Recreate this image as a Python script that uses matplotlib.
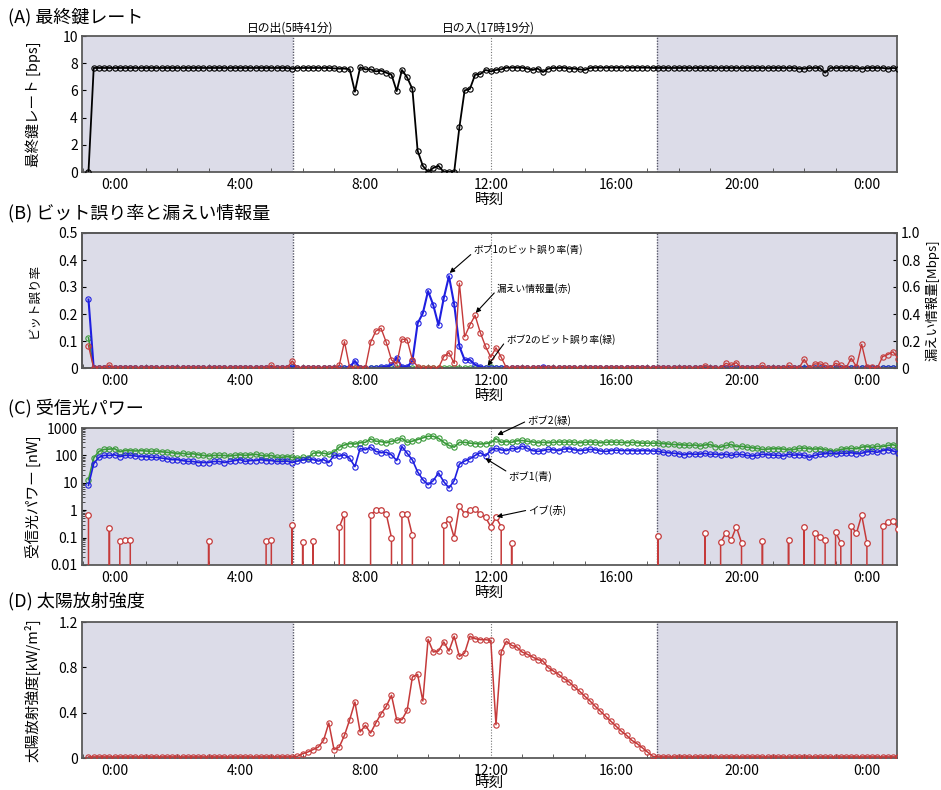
import numpy as np
import matplotlib
matplotlib.use('Agg')
import matplotlib.pyplot as plt
from matplotlib.ticker import FixedLocator, LogLocator, NullFormatter

plt.rcParams['font.family'] = ['Noto Sans CJK JP', 'DejaVu Sans']
plt.rcParams['axes.unicode_minus'] = False

# ---------------- data (10-minute samples from 23:10 of the previous day) ----------------
start_min = -50          # minutes relative to 0:00
step_min = 10
n_samples = 156
hours = (start_min + step_min * np.arange(n_samples)) / 60.0

sunrise = 5 + 41 / 60
sunset = 17 + 19 / 60

tick_hours = [0, 4, 8, 12, 16, 20, 24]
tick_labels = ['0:00', '4:00', '8:00', '12:00', '16:00', '20:00', '0:00']

# (A) final key rate [bps]
key_rate = [
    0.0, 7.65, 7.65, 7.65, 7.65, 7.65, 7.65, 7.65, 7.65, 7.65, 7.65, 7.65,
    7.65, 7.65, 7.65, 7.65, 7.65, 7.65, 7.65, 7.65, 7.65, 7.65, 7.65, 7.65,
    7.65, 7.65, 7.65, 7.65, 7.65, 7.65, 7.65, 7.65, 7.65, 7.65, 7.65, 7.65,
    7.65, 7.65, 7.65, 7.6, 7.65, 7.65, 7.65, 7.65, 7.65, 7.65, 7.65, 7.62,
    7.6, 7.6, 7.55, 5.9, 7.7, 7.55, 7.55, 7.4, 7.45, 7.3, 7.15, 5.95,
    7.5, 6.95, 6.1, 1.57, 0.45, 0.0, 0.3, 0.45, 0.0, 0.0, 0.0, 3.3,
    6.0, 6.1, 7.15, 7.2, 7.5, 7.4, 7.5, 7.55, 7.67, 7.67, 7.67, 7.67,
    7.6, 7.5, 7.6, 7.35, 7.6, 7.65, 7.65, 7.67, 7.6, 7.6, 7.55, 7.5,
    7.65, 7.67, 7.67, 7.67, 7.67, 7.67, 7.67, 7.67, 7.67, 7.67, 7.67, 7.67,
    7.65, 7.65, 7.65, 7.65, 7.65, 7.65, 7.65, 7.65, 7.65, 7.65, 7.65, 7.65,
    7.65, 7.65, 7.65, 7.65, 7.65, 7.65, 7.65, 7.65, 7.65, 7.65, 7.65, 7.65,
    7.65, 7.65, 7.65, 7.65, 7.6, 7.6, 7.65, 7.65, 7.65, 7.3, 7.65, 7.65,
    7.65, 7.65, 7.65, 7.65, 7.6, 7.65, 7.65, 7.65, 7.65, 7.6, 7.65, 7.6,
]

# (B) bit error rates and leaked information
ber_bob1 = [
    0.254, 0, 0, 0, 0, 0, 0, 0, 0, 0, 0, 0,
    0, 0, 0, 0, 0, 0, 0, 0, 0, 0, 0, 0,
    0, 0, 0, 0, 0, 0, 0, 0, 0, 0, 0, 0,
    0, 0, 0, 0.004, 0, 0, 0, 0, 0, 0, 0, 0,
    0, 0, 0.004, 0.026, 0, 0, 0, 0, 0.003, 0.004, 0.012, 0.038,
    0.004, 0.004, 0.026, 0.165, 0.203, 0.285, 0.233, 0.158, 0.258, 0.34, 0.236, 0.08,
    0.03, 0.03, 0.012, 0.004, 0, 0, 0, 0, 0, 0, 0, 0,
    0, 0, 0, 0.004, 0, 0, 0, 0, 0, 0, 0, 0,
    0, 0, 0, 0, 0, 0, 0, 0, 0, 0, 0, 0,
    0, 0, 0, 0, 0, 0, 0, 0, 0, 0, 0, 0,
    0, 0, 0, 0, 0, 0, 0, 0, 0, 0, 0, 0,
    0, 0, 0, 0, 0, 0, 0, 0, 0, 0, 0, 0,
    0, 0, 0, 0, 0, 0, 0, 0, 0, 0, 0, 0,
]
ber_bob2 = [
    0.112, 0, 0, 0, 0, 0, 0, 0, 0, 0, 0, 0,
    0, 0, 0, 0, 0, 0, 0, 0, 0, 0, 0, 0,
    0, 0, 0, 0, 0, 0, 0, 0, 0, 0, 0, 0,
    0, 0, 0, 0.004, 0, 0, 0, 0, 0, 0, 0, 0,
    0, 0, 0, 0, 0, 0, 0, 0, 0, 0, 0, 0,
    0, 0, 0, 0, 0, 0, 0, 0, 0, 0, 0, 0,
    0, 0, 0, 0, 0, 0.003, 0, 0, 0, 0, 0, 0,
    0, 0, 0, 0, 0, 0, 0, 0, 0, 0, 0, 0,
    0, 0, 0, 0, 0, 0, 0, 0, 0, 0, 0, 0,
    0, 0, 0, 0, 0, 0, 0, 0, 0, 0, 0, 0,
    0, 0, 0, 0, 0, 0, 0, 0, 0, 0, 0, 0,
    0, 0, 0, 0, 0, 0, 0, 0, 0, 0, 0, 0,
    0, 0, 0, 0, 0, 0, 0, 0, 0, 0, 0, 0,
]
leak_mbps = [
    0.165, 0, 0, 0, 0.022, 0, 0, 0, 0, 0, 0, 0,
    0, 0, 0, 0, 0, 0, 0, 0, 0, 0, 0, 0,
    0, 0, 0, 0, 0, 0, 0, 0, 0, 0, 0, 0.02,
    0, 0, 0, 0.052, 0, 0, 0, 0, 0, 0, 0, 0,
    0.02, 0.195, 0, 0, 0, 0, 0.19, 0.274, 0.294, 0.19, 0.06, 0.03,
    0.215, 0.208, 0.06, 0.01, 0, 0, 0, 0, 0.084, 0.114, 0.034, 0.628,
    0.232, 0.318, 0.39, 0.262, 0.16, 0.08, 0.15, 0.08, 0, 0, 0, 0,
    0, 0, 0, 0, 0, 0, 0, 0, 0, 0, 0, 0,
    0, 0, 0, 0, 0, 0, 0, 0, 0, 0, 0, 0,
    0, 0, 0, 0, 0, 0, 0, 0, 0, 0, 0.017, 0,
    0, 0, 0.035, 0.02, 0.04, 0, 0, 0, 0, 0.02, 0, 0,
    0, 0, 0.02, 0, 0, 0.064, 0, 0.03, 0.03, 0.02, 0, 0.035,
    0.02, 0, 0.072, 0.01, 0.175, 0.01, 0.005, 0, 0.084, 0.1, 0.12, 0.07,
]

# (C) received optical power [nW]
power_bob2 = [
    13, 80, 140, 165, 170, 175, 136, 150, 150, 145, 150, 145,
    140, 145, 135, 130, 125, 115, 120, 110, 115, 105, 100, 95,
    100, 100, 100, 95, 100, 105, 100, 105, 110, 100, 95, 100,
    85, 85, 90, 85, 80, 85, 80, 120, 125, 120, 110, 135,
    200, 240, 270, 260, 290, 300, 400, 330, 320, 290, 330, 350,
    420, 300, 330, 380, 440, 500, 500, 420, 300, 230, 200, 300,
    300, 280, 270, 260, 270, 290, 410, 300, 320, 300, 340, 350,
    330, 310, 290, 300, 290, 300, 310, 300, 310, 300, 290, 300,
    310, 300, 290, 300, 310, 300, 300, 290, 300, 290, 280, 280,
    280, 275, 270, 260, 250, 245, 240, 230, 240, 220, 240, 250,
    210, 200, 230, 250, 210, 215, 200, 190, 180, 165, 170, 175,
    175, 170, 160, 165, 180, 185, 175, 170, 175, 160, 150, 145,
    165, 175, 180, 175, 200, 210, 195, 215, 210, 230, 245, 210,
]
power_bob1 = [
    8, 50, 85, 100, 100, 105, 90, 100, 100, 95, 90, 90,
    85, 85, 80, 75, 70, 70, 65, 60, 60, 55, 55, 55,
    60, 60, 55, 60, 65, 70, 60, 65, 65, 70, 65, 65,
    60, 60, 62, 55, 62, 68, 72, 70, 62, 70, 55, 100,
    95, 105, 78, 39, 180, 160, 200, 140, 125, 130, 105, 65,
    210, 120, 68, 25, 13, 8.5, 12, 23, 11, 6.5, 12, 48,
    62, 75, 100, 125, 95, 155, 180, 160, 150, 180, 170, 220,
    180, 150, 140, 150, 165, 160, 150, 170, 175, 160, 150, 155,
    165, 160, 145, 140, 150, 155, 150, 150, 150, 145, 150, 148,
    145, 140, 130, 125, 120, 115, 105, 115, 110, 112, 118, 108,
    112, 105, 110, 100, 110, 108, 100, 95, 100, 110, 105, 102,
    100, 95, 110, 102, 105, 100, 85, 100, 110, 115, 120, 115,
    120, 118, 125, 115, 120, 135, 140, 130, 150, 160, 145, 125,
]
power_eve = [
    0.67, 0, 0, 0, 0.22, 0, 0.076, 0.08, 0.08, 0, 0, 0,
    0, 0, 0, 0, 0, 0, 0, 0, 0, 0, 0, 0.076,
    0, 0, 0, 0, 0, 0, 0, 0, 0, 0, 0.076, 0.085,
    0, 0, 0, 0.29, 0, 0.071, 0, 0.073, 0, 0, 0, 0,
    0.24, 0.75, 0, 0, 0, 0, 0.68, 1.0, 1.0, 0.72, 0.1, 0,
    0.7, 0.73, 0.12, 0, 0, 0, 0, 0, 0.28, 0.46, 0.1, 1.4,
    0.75, 1.05, 1.1, 0.7, 0.55, 0.25, 0.55, 0.25, 0, 0.065, 0, 0,
    0, 0, 0, 0, 0, 0, 0, 0, 0, 0, 0, 0,
    0, 0, 0, 0, 0, 0, 0, 0, 0, 0, 0, 0,
    0, 0.115, 0, 0, 0, 0, 0, 0, 0, 0, 0.144, 0,
    0, 0.067, 0.15, 0.08, 0.25, 0.065, 0, 0, 0, 0.075, 0, 0,
    0, 0, 0.08, 0, 0, 0.25, 0, 0.15, 0.107, 0.08, 0, 0.16,
    0.065, 0, 0.27, 0.144, 0.66, 0.065, 0, 0, 0.27, 0.37, 0.42, 0.21,
]

# (D) solar irradiance [kW/m2]
solar = [
    0.01, 0.01, 0.01, 0.01, 0.01, 0.01, 0.01, 0.01, 0.01, 0.01, 0.01, 0.01,
    0.01, 0.01, 0.01, 0.01, 0.01, 0.01, 0.01, 0.01, 0.01, 0.01, 0.01, 0.01,
    0.01, 0.01, 0.01, 0.01, 0.01, 0.01, 0.01, 0.01, 0.01, 0.01, 0.01, 0.01,
    0.01, 0.01, 0.01, 0.01, 0.015, 0.038, 0.053, 0.074, 0.097, 0.156, 0.309, 0.074,
    0.097, 0.2, 0.338, 0.494, 0.23, 0.288, 0.22, 0.309, 0.39, 0.456, 0.553, 0.338,
    0.338, 0.421, 0.715, 0.738, 0.503, 1.047, 0.935, 0.944, 1.024, 0.944, 1.074, 0.897,
    0.926, 1.074, 1.053, 1.044, 1.044, 1.038, 0.294, 0.935, 1.03, 0.994, 0.979, 0.935,
    0.915, 0.891, 0.868, 0.856, 0.797, 0.768, 0.738, 0.7, 0.671, 0.627, 0.589, 0.545,
    0.503, 0.456, 0.412, 0.368, 0.324, 0.28, 0.236, 0.2, 0.156, 0.127, 0.091, 0.053,
    0.015, 0.01, 0.01, 0.01, 0.01, 0.01, 0.01, 0.01, 0.01, 0.01, 0.01, 0.01,
    0.01, 0.01, 0.01, 0.01, 0.01, 0.01, 0.01, 0.01, 0.01, 0.01, 0.01, 0.01,
    0.01, 0.01, 0.01, 0.01, 0.01, 0.01, 0.01, 0.01, 0.01, 0.01, 0.01, 0.01,
    0.01, 0.01, 0.01, 0.01, 0.01, 0.01, 0.01, 0.01, 0.01, 0.01, 0.01, 0.01,
]

# ---------------- styling ----------------
BLUE = '#1f1fe0'
GREEN = '#3a9a3a'
RED = '#c53a3a'
NIGHT = '#dcdce8'
SPINE = '#5a5a5a'
XMIN, XMAX = -1.04, 24.96

W, H = 941, 790
fig = plt.figure(figsize=(W / 100, H / 100), dpi=100)


def add_ax(top, bottom):
    return fig.add_axes([82 / W, 1 - bottom / H, 815 / W, (bottom - top) / H])


axA = add_ax(36, 172)
axB = add_ax(233, 368)
axC = add_ax(428, 565)
axD = add_ax(622, 758)


def style(ax, xlabelpad=1):
    ax.set_xlim(XMIN, XMAX)
    ax.axvspan(XMIN, sunrise, color=NIGHT, zorder=0, lw=0)
    ax.axvspan(sunset, XMAX, color=NIGHT, zorder=0, lw=0)
    ax.axvline(sunrise, color='#555566', ls=(0, (1, 1)), lw=1.0, zorder=1)
    ax.axvline(sunset, color='#555566', ls=(0, (1, 1)), lw=1.0, zorder=1)
    ax.axvline(12, color='#777777', ls=(0, (1, 1.5)), lw=0.8, zorder=1)
    ax.set_xticks(tick_hours)
    ax.set_xticklabels(tick_labels)
    ax.xaxis.set_minor_locator(FixedLocator(list(range(-1, 25))))
    ax.tick_params(axis='x', which='major', length=0, pad=4, labelsize=10)
    ax.tick_params(axis='x', which='minor', length=3, direction='in', color='#444444')
    ax.tick_params(axis='y', which='major', length=3, direction='in', labelsize=10, pad=3)
    for s in ax.spines.values():
        s.set_color(SPINE)
        s.set_linewidth(1.3)
    ax.set_xlabel('時刻', fontsize=10.5, labelpad=xlabelpad)
    ax.yaxis.set_label_coords(-0.0505, 0.5)


mk = dict(marker='o', markersize=3.8, markerfacecolor='none', markeredgewidth=0.8)

# (A)
style(axA)
axA.plot(hours, key_rate, color='black', lw=1.3, markeredgecolor='black', zorder=3, **mk)
axA.set_ylim(0, 10)
axA.set_yticks([0, 2, 4, 6, 8, 10])
axA.set_ylabel('最終鍵レート [bps]', fontsize=10.5)

# (B)
style(axB)
axB.plot(hours, ber_bob2, color=GREEN, lw=1.2, markeredgecolor=GREEN, zorder=3, **mk)
axB.plot(hours, ber_bob1, color=BLUE, lw=1.5, markeredgecolor=BLUE, zorder=4, **mk)
axB.set_ylim(0, 0.5)
axB.set_yticks([0, 0.1, 0.2, 0.3, 0.4, 0.5])
axB.set_yticklabels(['0', '0.1', '0.2', '0.3', '0.4', '0.5'])
axB.set_ylabel('ビット誤り率', fontsize=9)
axB2 = axB.twinx()
axB2.plot(hours, leak_mbps, color=RED, lw=1.0, markeredgecolor=RED, zorder=3, **mk)
axB2.set_xlim(XMIN, XMAX)
axB2.set_ylim(0, 1.0)
axB2.set_yticks([0, 0.2, 0.4, 0.6, 0.8, 1.0])
axB2.set_yticklabels(['0', '0.2', '0.4', '0.6', '0.8', '1.0'])
axB2.tick_params(axis='y', length=3, direction='in', labelsize=10, pad=3)
for s in axB2.spines.values():
    s.set_color(SPINE)
    s.set_linewidth(1.3)
axB2.set_ylabel('漏えい情報量[Mbps]', fontsize=9.5, rotation=90)
axB2.yaxis.set_label_coords(1.034, 0.5)

arrow = dict(arrowstyle='-|>', color='black', lw=0.8, mutation_scale=7, shrinkA=0, shrinkB=0)
axB.annotate('ボブ1のビット誤り率(青)', xy=(10.69, 0.352), xytext=(11.45, 0.437),
             fontsize=7, ha='left', va='center', arrowprops=dict(arrow, relpos=(0, 0.3)), zorder=10)
axB2.annotate('漏えい情報量(赤)', xy=(11.52, 0.408), xytext=(12.2, 0.586),
              fontsize=7, ha='left', va='center', arrowprops=dict(arrow, relpos=(0, 0.4)), zorder=10)
axB2.annotate('ボブ2のビット誤り率(緑)', xy=(11.9, 0.016), xytext=(12.5, 0.214),
              fontsize=7, ha='left', va='center', arrowprops=dict(arrow, relpos=(0, 0.4)), zorder=10)

# (C)
style(axC)
axC.set_yscale('log', nonpositive='clip')
axC.plot(hours, power_bob2, color=GREEN, lw=1.2, markeredgecolor=GREEN, zorder=3, **mk)
axC.plot(hours, power_bob1, color=BLUE, lw=1.2, markeredgecolor=BLUE, zorder=4, **mk)
axC.plot(hours, power_eve, color=RED, lw=1.1, marker='o', markersize=4, markerfacecolor='white',
         markeredgecolor=RED, markeredgewidth=0.9, zorder=5)
axC.set_ylim(0.01, 1000)
axC.set_yticks([0.01, 0.1, 1, 10, 100, 1000])
axC.set_yticklabels(['0.01', '0.1', '1', '10', '100', '1000'])
axC.yaxis.set_minor_locator(LogLocator(base=10, subs=np.arange(2, 10)))
axC.yaxis.set_minor_formatter(NullFormatter())
axC.tick_params(axis='y', which='minor', length=2.5, direction='in', color='#333333')
axC.set_ylabel('受信光パワー [nW]', fontsize=10.5)

axC.annotate('ボブ2(緑)', xy=(12.21, 556), xytext=(13.17, 1845),
             fontsize=7.5, ha='left', va='center', annotation_clip=False,
             arrowprops=dict(arrow, relpos=(0, 0.5)), zorder=10)
axC.annotate('ボブ1(青)', xy=(11.83, 78), xytext=(12.57, 17.7),
             fontsize=7.5, ha='left', va='center',
             arrowprops=dict(arrow, relpos=(0, 0.8)), zorder=10)
axC.annotate('イブ(赤)', xy=(12.19, 0.58), xytext=(13.2, 1.02),
             fontsize=7.5, ha='left', va='center',
             arrowprops=dict(arrow, relpos=(0, 0.5)), zorder=10)

# (D)
style(axD, xlabelpad=-1)
axD.plot(hours, solar, color=RED, lw=1.1, markeredgecolor=RED, zorder=3, **mk)
axD.set_ylim(0, 1.2)
axD.set_yticks([0, 0.4, 0.8, 1.2])
axD.set_yticklabels(['0', '0.4', '0.8', '1.2'])
axD.set_ylabel('太陽放射強度[kW/m²]', fontsize=10.5)

# titles and sun annotations
fig.text(8 / W, 1 - 17 / H, '(A) 最終鍵レート', fontsize=13, ha='left', va='center')
fig.text(8 / W, 1 - 213 / H, '(B) ビット誤り率と漏えい情報量', fontsize=13, ha='left', va='center')
fig.text(8 / W, 1 - 408 / H, '(C) 受信光パワー', fontsize=13, ha='left', va='center')
fig.text(8 / W, 1 - 601 / H, '(D) 太陽放射強度', fontsize=13, ha='left', va='center')
fig.text(290 / W, 1 - 28 / H, '日の出(5時41分)', fontsize=8.5, ha='center', va='center')
fig.text(488 / W, 1 - 28 / H, '日の入(17時19分)', fontsize=8.5, ha='center', va='center')

fig.savefig('out.png', dpi=100)
